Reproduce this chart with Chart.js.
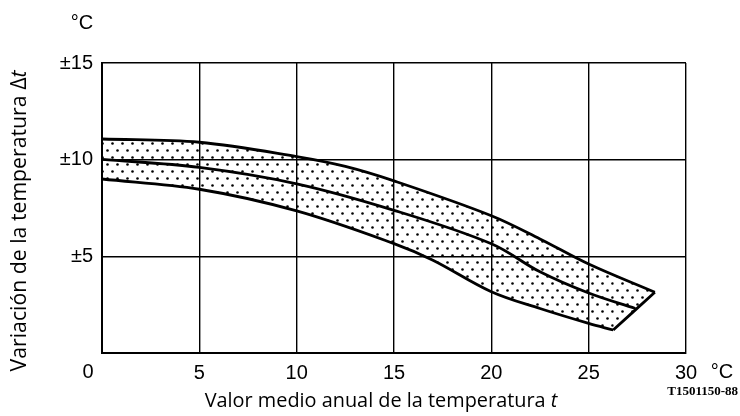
<!DOCTYPE html>
<html>
<head>
<meta charset="utf-8">
<script src="https://cdn.jsdelivr.net/npm/chart.js@4.4.1/dist/chart.umd.min.js"></script>
<style>
  html, body { margin: 0; padding: 0; background: #fff; }
  #wrap { width: 740px; height: 416px; }
</style>
</head>
<body>
<div id="wrap"><canvas id="chart"></canvas></div>
<script>
  // values
  const UPPER_X  = [0, 5, 10, 12.5, 15, 20, 22.5, 25, 28.4];
  const UPPER_Y  = [11.07, 10.9, 10.16, 9.65, 8.9, 7.1, 5.9, 4.6, 3.14];
  const MIDDLE_X = [0, 5, 10, 15, 20, 22.5, 25, 27.4];
  const MIDDLE_Y = [10.02, 9.6, 8.75, 7.38, 5.65, 4.2, 3.1, 2.3];
  const LOWER_X  = [0, 5, 10, 15, 17, 20, 22.5, 25, 26.26];
  const LOWER_Y  = [9.0, 8.47, 7.35, 5.66, 4.8, 3.17, 2.3, 1.53, 1.19];

  const X_TICKS = [0, 5, 10, 15, 20, 25, 30];
  const Y_TICKS = [0, 5, 10, 15];

  const TICK_FONT = { family: "'Liberation Sans Narrow', 'Liberation Sans', Arial, sans-serif", size: 20 };
  const TITLE_FAMILY = "'Open Sans', 'DejaVu Sans', sans-serif";

  function pts(xs, ys){ return xs.map((x, i) => ({ x, y: ys[i] })); }

  // right-hand closing edge of the band: lower end -> upper end
  const closing = [
    { x: LOWER_X[LOWER_X.length-1], y: LOWER_Y[LOWER_Y.length-1] },
    { x: UPPER_X[UPPER_X.length-1], y: UPPER_Y[UPPER_Y.length-1] }
  ];

  // dotted fill pattern
  const tile = document.createElement('canvas');
  tile.width = 10; tile.height = 14;
  const tctx = tile.getContext('2d');
  tctx.fillStyle = '#000';
  tctx.beginPath(); tctx.arc(2.5, 3.5, 1.3, 0, Math.PI*2); tctx.fill();
  tctx.beginPath(); tctx.arc(7.5, 10.5, 1.3, 0, Math.PI*2); tctx.fill();
  const dots = tctx.createPattern(tile, 'repeat');

  const lineStyle = {
    borderColor: '#000',
    borderWidth: 2.8,
    pointRadius: 0,
    tension: 0.35
  };

  // title with italic trailing "t", sized to the span it has in the figure
  function drawTitle(c, text, x, y, span){
    c.font = `18px ${TITLE_FAMILY}`;
    const size = 18 * span / (c.measureText(text).width + 6);
    c.font = `${size}px ${TITLE_FAMILY}`;
    const w1 = c.measureText(text).width;
    c.font = `italic ${size}px ${TITLE_FAMILY}`;
    const w2 = c.measureText('t').width;
    const x0 = x - (w1 + w2) / 2;
    c.textAlign = 'left';
    c.font = `${size}px ${TITLE_FAMILY}`;
    c.fillText(text, x0, y);
    c.font = `italic ${size}px ${TITLE_FAMILY}`;
    c.fillText('t', x0 + w1, y);
  }

  const extraText = {
    id: 'extraText',
    afterDraw(chart){
      const c = chart.ctx;
      c.save();
      c.fillStyle = '#000';
      c.textBaseline = 'middle';

      c.font = `20px 'Liberation Sans', Arial, sans-serif`;
      c.textAlign = 'center';
      c.fillText('°C', 82, 23);
      c.fillText('°C', 722, 372);
      c.font = `${TICK_FONT.size}px ${TICK_FONT.family}`;
      c.fillText('0', 88, 372);

      c.font = `bold 13px 'Liberation Serif', serif`;
      c.textAlign = 'right';
      c.fillText('T1501150-88', 738, 392);

      drawTitle(c, 'Valor medio anual de la temperatura ', 381, 401, 353);

      c.translate(20, 221);
      c.rotate(-Math.PI/2);
      drawTitle(c, 'Variación de la temperatura Δ', 0, 0, 301);
      c.restore();
    }
  };

  new Chart(document.getElementById('chart'), {
    type: 'line',
    data: {
      datasets: [
        { ...lineStyle, data: pts(UPPER_X, UPPER_Y), fill: { target: 2 }, backgroundColor: dots },
        { ...lineStyle, data: pts(MIDDLE_X, MIDDLE_Y), fill: false },
        { ...lineStyle, data: pts(LOWER_X, LOWER_Y), fill: false },
        { ...lineStyle, data: closing, fill: { target: 0 }, backgroundColor: dots }
      ]
    },
    options: {
      responsive: true,
      maintainAspectRatio: false,
      animation: false,
      layout: { padding: { top: 63, right: 54, bottom: 0, left: 0 } },
      plugins: {
        legend: { display: false },
        tooltip: { enabled: false }
      },
      scales: {
        x: {
          type: 'linear',
          min: 0, max: 30,
          afterBuildTicks: s => { s.ticks = X_TICKS.map(v => ({ value: v })); },
          afterFit: s => { s.height = 63; },
          grid: { color: '#000', lineWidth: 1.4, drawTicks: false },
          border: { color: '#000', width: 2 },
          ticks: {
            color: '#000', font: TICK_FONT, padding: 8, maxRotation: 0,
            callback: v => v === 0 ? '' : String(v)
          }
        },
        y: {
          type: 'linear',
          min: 0, max: 15,
          afterBuildTicks: s => { s.ticks = Y_TICKS.map(v => ({ value: v })); },
          afterFit: s => { s.width = 102; },
          grid: { color: '#000', lineWidth: 1.4, drawTicks: false },
          border: { color: '#000', width: 2 },
          ticks: {
            color: '#000', font: TICK_FONT, padding: 9,
            callback: v => v === 0 ? '' : '±' + v
          }
        }
      }
    },
    plugins: [extraText]
  });
</script>
</body>
</html>
